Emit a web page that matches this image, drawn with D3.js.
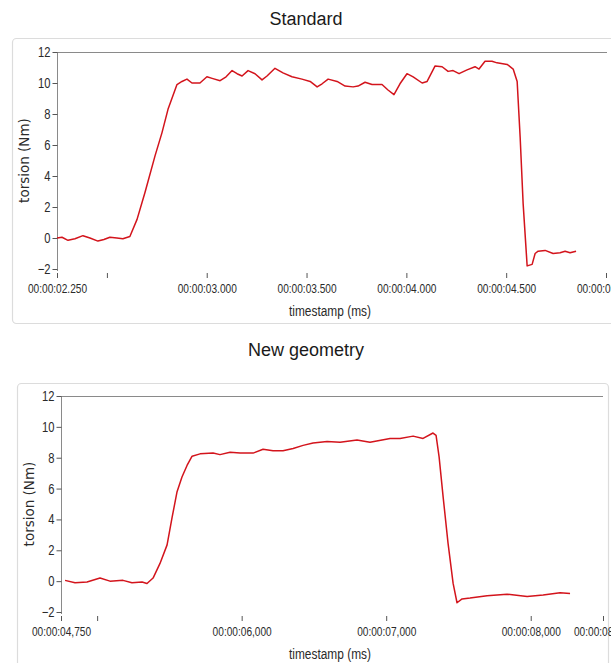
<!DOCTYPE html>
<html><head><meta charset="utf-8">
<script src="https://cdn.jsdelivr.net/npm/d3@7"></script>
<style>
body{margin:0;background:#fff;}
svg{display:block;}
</style></head><body>
<svg id="c" width="611" height="663"></svg>
<script>
// ---- data ----
const standardTime = [2.250,2.275,2.305,2.340,2.380,2.415,2.455,2.485,2.515,2.550,2.580,2.615,2.651,2.691,2.741,2.776,2.806,2.851,2.876,2.901,2.926,2.966,3.001,3.027,3.067,3.097,3.127,3.152,3.177,3.207,3.242,3.277,3.302,3.342,3.382,3.427,3.477,3.518,3.553,3.578,3.608,3.653,3.693,3.733,3.758,3.793,3.828,3.878,3.908,3.938,3.968,4.003,4.034,4.079,4.104,4.144,4.179,4.209,4.234,4.264,4.304,4.344,4.364,4.394,4.429,4.454,4.505,4.535,4.555,4.570,4.585,4.605,4.630,4.645,4.660,4.695,4.735,4.770,4.795,4.820,4.850];
const standardTorsion = [0.0,0.05,-0.15,-0.05,0.15,0.0,-0.2,-0.1,0.05,0.0,-0.05,0.1,1.2,2.95,5.3,6.8,8.3,9.9,10.1,10.25,10.0,10.0,10.4,10.3,10.15,10.4,10.8,10.6,10.45,10.8,10.6,10.2,10.45,10.95,10.65,10.4,10.25,10.1,9.75,9.95,10.25,10.1,9.8,9.75,9.8,10.05,9.9,9.9,9.55,9.25,9.95,10.6,10.4,10.0,10.1,11.1,11.05,10.75,10.8,10.6,10.85,11.05,10.9,11.4,11.4,11.3,11.2,10.9,10.1,6.5,2.2,-1.8,-1.7,-1.0,-0.85,-0.8,-1.0,-0.95,-0.85,-0.95,-0.85];

const newTime = [4.778,4.847,4.930,5.020,5.089,5.179,5.241,5.311,5.345,5.387,5.435,5.484,5.518,5.553,5.587,5.622,5.657,5.712,5.802,5.850,5.920,5.989,6.079,6.148,6.217,6.286,6.356,6.425,6.494,6.591,6.681,6.798,6.888,7.027,7.096,7.186,7.255,7.324,7.345,7.366,7.394,7.428,7.463,7.490,7.525,7.580,7.698,7.836,7.975,8.086,8.203,8.272];
const newTorsion = [0.05,-0.1,-0.05,0.2,0.0,0.05,-0.1,-0.05,-0.15,0.2,1.15,2.35,4.1,5.8,6.75,7.5,8.1,8.25,8.3,8.2,8.35,8.3,8.3,8.55,8.45,8.45,8.6,8.8,8.95,9.05,9.0,9.15,9.0,9.25,9.25,9.4,9.25,9.6,9.45,8.05,5.45,2.45,-0.15,-1.4,-1.15,-1.1,-0.95,-0.85,-1.0,-0.9,-0.75,-0.8];

const yTicks = [-2,0,2,4,6,8,10,12];
const standardXTicks = [2.25,2.5,3.0,3.5,4.0,4.5,5.0];
const standardXLabels = ["00:00:02.250","","00:00:03.000","00:00:03.500","00:00:04.000","00:00:04.500","00:00:05.000"];
const newXTicks = [4.75,5.0,6.0,7.0,8.0,8.5];
const newXLabels = ["00:00:04,750","","00:00:06,000","00:00:07,000","00:00:08,000","00:00:08,500"];
const titles = ["Standard","New geometry"];

// ---- drawing ----
const svg = d3.select("#c");
const sans = "'Liberation Sans',Arial,sans-serif";

function condense(sel, factor){
  sel.each(function(){
    const w = this.getComputedTextLength();
    if (w > 0) d3.select(this).attr("textLength", w*factor).attr("lengthAdjust","spacingAndGlyphs");
  });
}

function panel(cfg){
  const g = svg.append("g");
  g.append("text").attr("x",cfg.titleX).attr("y",cfg.titleY).attr("text-anchor","middle")
    .attr("font-family",sans).attr("font-size",18).attr("fill","#1a1a1a").text(cfg.title);
  g.append("rect").attr("x",cfg.frame[0]+0.5).attr("y",cfg.frame[1]+0.5).attr("width",cfg.frame[2]).attr("height",cfg.frame[3])
    .attr("rx",4).attr("fill","#fff").attr("stroke","#dcdcdc").attr("stroke-width",1.2);

  const x = d3.scaleLinear().domain(cfg.xDomain).range([cfg.left,cfg.right]);
  const y = d3.scaleLinear().domain([-2,12]).range([cfg.bottom,cfg.top]);

  g.append("line").attr("x1",cfg.left).attr("x2",cfg.plotRight).attr("y1",cfg.top+0.5).attr("y2",cfg.top+0.5)
    .attr("stroke","#8a8a8a").attr("stroke-width",1);

  const ya = d3.axisLeft(y).tickValues(yTicks).tickSize(5).tickPadding(2).tickFormat(d3.format("d"));
  const yg = g.append("g").attr("transform",`translate(${cfg.left+0.5},0)`).call(ya);
  yg.select(".domain").attr("stroke","#8a8a8a").attr("d",`M0,${cfg.top}V${cfg.bottom+2}`);
  yg.selectAll(".tick line").attr("stroke","#555");
  yg.selectAll("text").attr("font-family",sans).attr("font-size",14).attr("fill","#2a2a2a").call(condense,0.8);

  const xa = d3.axisBottom(x).tickValues(cfg.xTicks).tickSize(5).tickPadding(5)
    .tickFormat((d,i)=>cfg.xLabels[i]);
  const xg = g.append("g").attr("transform",`translate(0,${cfg.bottom+4})`).call(xa);
  xg.select(".domain").remove();
  xg.selectAll(".tick line").attr("stroke","#555");
  xg.selectAll("text").attr("font-family",sans).attr("font-size",13.5).attr("fill","#2a2a2a").call(condense,0.75);

  g.append("text").attr("transform",`translate(${cfg.yTitleX},${(cfg.top+cfg.bottom)/2}) rotate(-90)`)
    .attr("text-anchor","middle").attr("font-family","'DejaVu Sans',Verdana,sans-serif").attr("font-size",13.5).attr("fill","#2a2a2a")
    .text("torsion (Nm)");
  g.append("text").attr("x",cfg.xTitleX).attr("y",cfg.xTitleY).attr("text-anchor","middle")
    .attr("font-family",sans).attr("font-size",14).attr("fill","#2a2a2a").text("timestamp (ms)").call(condense,0.85);

  const pts = cfg.t.map((t,i)=>[t,cfg.v[i]]);
  g.append("path").datum(pts).attr("fill","none").attr("stroke","#d3141c").attr("stroke-width",1.5)
    .attr("stroke-linejoin","round")
    .attr("d",d3.line().x(d=>x(d[0])).y(d=>y(d[1])));
}

panel({title:titles[0],titleX:306,titleY:25,frame:[12,38,620,285],
  xDomain:[2.25,5.0],left:57,right:606,plotRight:607,top:52,bottom:269,
  xTicks:standardXTicks,xLabels:standardXLabels,yTitleX:29,xTitleX:330,xTitleY:316,
  t:standardTime,v:standardTorsion});

panel({title:titles[1],titleX:306,titleY:356,frame:[17,383,591,300],
  xDomain:[4.75,8.5],left:61,right:603,plotRight:603,top:396,bottom:612,
  xTicks:newXTicks,xLabels:newXLabels,yTitleX:34,xTitleX:330,xTitleY:659,
  t:newTime,v:newTorsion});
</script>
</body></html>
